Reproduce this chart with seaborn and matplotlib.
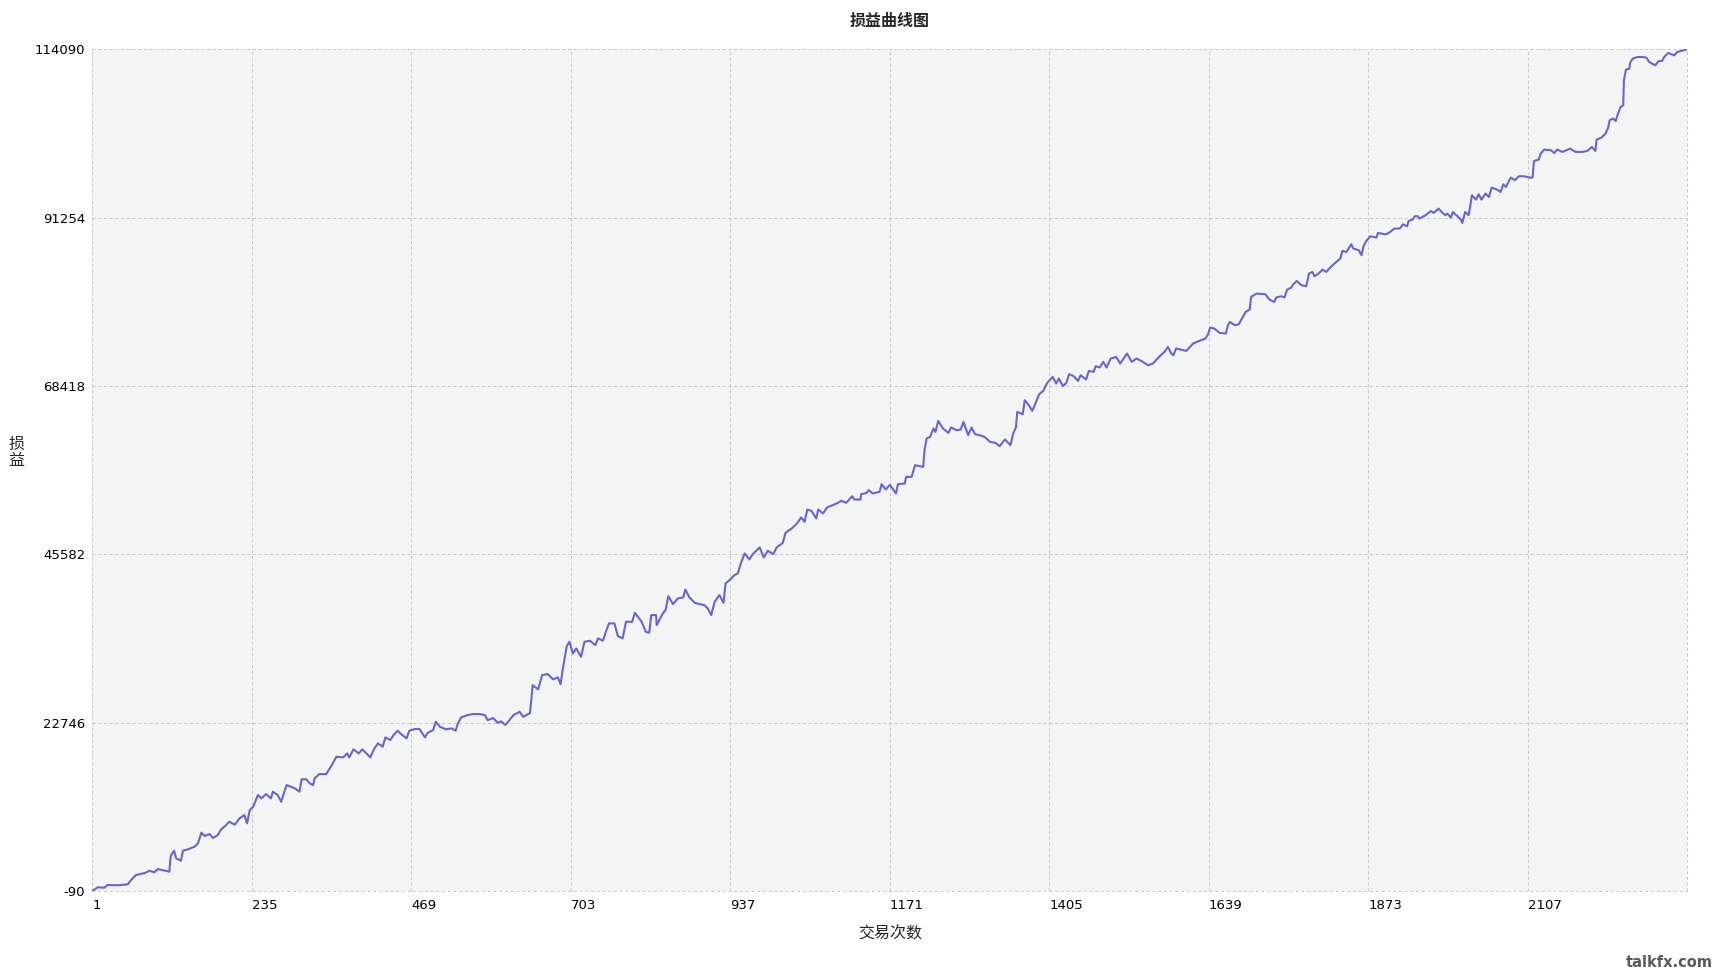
import matplotlib
matplotlib.use("Agg")
import matplotlib.pyplot as plt
import seaborn as sns
import pandas as pd

# ---- data ----
trades = [
    1, 9, 19, 23, 39, 53, 58, 65, 78, 85, 92, 97, 114, 116, 121, 124, 131, 134, 141, 151,
    156, 161, 166, 173, 178, 185, 190, 197, 202, 210, 217, 224, 228, 232, 237, 244, 249, 256,
    263, 266, 273, 278, 286, 298, 305, 308, 315, 320, 325, 327, 334, 344, 351, 359, 369, 375,
    378,
    384, 392, 397, 409, 414, 420, 427, 431, 438, 443, 449, 454, 462, 466, 474, 481, 489, 493,
    501, 505, 511, 520, 528, 534, 537, 542, 552, 559, 569, 577, 581, 589, 596, 601, 607, 613,
    619, 628, 633, 643, 645, 647, 655, 661, 669, 677, 684, 688, 691, 697, 701, 706, 711, 718,
    723, 731, 739, 743, 750, 755, 759, 767, 772,
    779, 784, 793, 797, 807, 813, 818, 821, 828, 829, 838, 842, 846, 853, 860, 868, 871, 877,
    885, 892, 899, 904, 909, 914, 921, 927, 930, 937, 943, 948, 952, 958, 965, 970, 980, 986,
    992, 1000, 1005, 1014, 1018, 1027, 1034, 1041, 1046, 1050, 1056, 1063, 1066, 1073, 1079,
    1093, 1100, 1107, 1116, 1119, 1128, 1129, 1137, 1140, 1146, 1156, 1159, 1165,
    1171, 1176, 1180, 1183, 1193, 1195, 1203, 1208, 1220, 1222, 1225, 1230, 1235, 1238, 1242,
    1249, 1257, 1261, 1269, 1275, 1279, 1286, 1291, 1296, 1303, 1310, 1318, 1326, 1332, 1340,
    1348, 1352, 1356, 1358, 1366, 1369, 1375, 1380, 1385, 1390, 1396, 1402, 1410, 1415, 1419,
    1425, 1430, 1434, 1441, 1447, 1451, 1459, 1463, 1470, 1473, 1479, 1484, 1489, 1495, 1503,
    1509, 1519, 1526, 1533, 1540, 1550, 1557,
    1567, 1574, 1579, 1584, 1587, 1591, 1606, 1616, 1625, 1634, 1638, 1641, 1647, 1655, 1664,
    1667, 1670, 1677, 1683, 1689, 1693, 1699, 1701, 1709, 1722, 1728, 1735, 1738, 1745, 1750,
    1754, 1760, 1763, 1768, 1775, 1782, 1786, 1791, 1794, 1801, 1806, 1811, 1819, 1826, 1832,
    1835, 1841, 1848, 1851, 1859, 1863, 1866, 1870, 1876, 1885, 1887, 1899, 1905, 1911, 1919,
    1924, 1930, 1932, 1938, 1941, 1946,
    1948, 1957, 1965, 1969, 1976, 1982, 1986, 1989, 1994, 1997, 2004, 2009, 2011, 2015, 2020,
    2022, 2025, 2031, 2035, 2039, 2045, 2050, 2054, 2062, 2067, 2071, 2075, 2082, 2088, 2094,
    2102, 2109, 2114, 2116, 2123, 2126, 2131, 2141, 2146, 2150, 2158, 2169, 2177, 2187, 2194,
    2201, 2206, 2208, 2215, 2221, 2225, 2227, 2232, 2236, 2238, 2243, 2247, 2248, 2251, 2256,
    2257, 2261, 2268, 2275, 2281, 2285, 2294, 2299, 2304, 2307, 2313, 2322, 2326, 2341,
]

profit = [
    -90, 410, 360, 720, 690, 820, 1400, 2080, 2350, 2660, 2440, 2890, 2530, 4660, 5380, 4340,
    4020, 5380, 5560, 5920, 6380, 7820, 7370, 7640, 7100, 7500, 8280, 8820, 9310, 8900, 9770,
    10210, 9090, 10890, 11340, 12930, 12480, 13060, 12480, 13380, 12930, 12020, 14280, 13840,
    13380, 15060, 15060, 14510, 14280, 15190, 15770, 15770, 16770, 18120, 18040, 18580, 18040,
    19120, 18580, 19120, 18040, 19120, 19940, 19480, 20750, 20390, 21060, 21650, 21200, 20620,
    21650, 21880, 21880, 20750, 21380, 21740, 22870, 22190, 21840, 21970, 21650, 22550, 23460,
    23780, 23910, 23910, 23780, 23100, 23370, 22730, 22920, 22420, 23100, 23780, 24220, 23550,
    24010, 25810, 27840, 27260, 29200, 29340, 28620, 28890, 27980, 29880, 33130, 33720, 32140,
    32820, 31680, 33720, 33860, 33270, 34180, 33860, 35210, 36210, 36210, 34490,
    34180, 36430, 36430, 37650, 36430, 35070, 34940, 37340, 37340, 35980, 37560, 38010, 39910,
    38830, 39600, 39740, 40820, 39740, 39000, 38830, 38690, 38240, 37340, 39140, 40050, 39000,
    41630, 42180, 42760, 42990, 44250, 45700, 44890, 45610, 46520, 45160, 46060, 45610, 46520,
    47140, 48500, 49090, 49680, 50580, 49990, 51670, 51480, 50450, 51670, 51120, 51940, 52480,
    52840, 52570, 53470, 53020, 53020, 53740, 53920, 54290, 53840, 54060, 55100, 54380,
    55000, 54380, 53840, 55100, 55190, 56090, 56090, 57670, 57440, 59800, 61290, 61510, 62650,
    62190, 63680, 62650, 62060, 62790, 62420, 62510, 63550, 61740, 62790, 61880, 61740, 61510,
    60840, 60700, 60250, 61160, 60390, 61970, 62790, 64900, 64590, 66490, 65810, 65040, 66130,
    67300, 67750, 68840, 69650, 68750, 69430, 68390, 68840, 70020, 69740, 69110, 69880, 69300,
    70460, 70330, 71100, 70920, 71690, 70920, 72140, 72360, 71470, 72820, 71690, 72140, 71820,
    71230, 71470,
    72460, 73040, 73720, 72820, 72590, 73500, 73180, 74180, 74530, 74860, 75440, 76350, 76210,
    75620, 75530, 76660, 77110, 76660, 76790, 77780, 78460, 78790, 80500, 80960, 80860, 80140,
    79820, 80420, 80590, 80420, 81500, 81770, 82220, 82670, 82080, 81950, 83670, 83890, 83300,
    83750, 84210, 83890, 84660, 85240, 85710, 86740, 86600, 87640, 87060, 86830, 86150, 87370,
    88090, 88730, 88550, 89170, 88990, 89310, 89770, 89770, 90350, 90080, 90800, 90990, 91440,
    91440,
    91130, 91580, 92160, 91890, 92480, 91890, 91580, 91810, 91260, 92020, 91440, 90990, 90530,
    92020, 91580, 92480, 94290, 93700, 94420, 93700, 94520, 94060, 95330, 95060, 94740, 95780,
    95420, 96690, 96330, 96870, 96870, 96690, 96690, 98940, 99130, 99950, 100490, 100390,
    100030, 100490, 100170, 100620, 100170, 100170, 100300, 100840, 100300, 101840, 102110,
    102660, 103470, 104460, 104690, 104370, 105000, 106260, 106490, 109880, 111330, 111470,
    112230, 112830, 113050, 113050, 112960, 112370, 111920, 112500, 112500, 113050, 113590,
    113270, 113720, 114090,
]

x_ticks = [1, 235, 469, 703, 937, 1171, 1405, 1639, 1873, 2107, 2341]
x_tick_labels = ["1", "235", "469", "703", "937", "1171", "1405", "1639", "1873", "2107", ""]
y_ticks = [-90, 22746, 45582, 68418, 91254, 114090]
y_tick_labels = ["-90", "22746", "45582", "68418", "91254", "114090"]

title_text = "损益曲线图"
x_label = "交易次数"
y_label = "损\n益"
watermark = "talkfx.com"

df = pd.DataFrame({"trade": trades, "profit": profit})

# ---- figure ----
sns.set_style("white")
plt.rcParams["font.family"] = ["DejaVu Sans", "Noto Sans CJK SC"]

W, H = 1721, 974
fig = plt.figure(figsize=(W / 100, H / 100), dpi=100)
fig.patch.set_facecolor("white")
left, right, top, bottom = 92.3, 1687.3, 49.3, 891.0
ax = fig.add_axes([left / W, 1 - bottom / H, (right - left) / W, (bottom - top) / H])
ax.set_facecolor("#f4f4f4")

sns.lineplot(data=df, x="trade", y="profit", ax=ax, color="#6a64d2",
             linewidth=1.5, sort=False, estimator=None)

ax.set_xlim(x_ticks[0], x_ticks[-1])
ax.set_ylim(y_ticks[0], y_ticks[-1])
ax.set_xticks(x_ticks)
ax.set_xticklabels(x_tick_labels, ha="left")
ax.set_yticks(y_ticks)
ax.set_yticklabels(y_tick_labels)
ax.tick_params(axis="both", length=0, labelsize=9.5, colors="black")
ax.tick_params(axis="x", pad=6)
ax.tick_params(axis="y", pad=5)

for s in ax.spines.values():
    s.set_visible(False)
ax.grid(True, color="#c8c8c8", linestyle=(0, (3, 2.5)), linewidth=0.75)
for gl in ax.get_xgridlines() + ax.get_ygridlines():
    gl.set_clip_on(False)
ax.set_axisbelow(True)

cjk = ["Noto Sans CJK SC", "DejaVu Sans"]
fig.text((left + right) / 2 / W, 1 - 21 / H, title_text, family=cjk, fontsize=11.5,
         weight="bold", ha="center", va="center")
ax.set_xlabel(x_label, family=cjk, fontsize=11.5, weight="medium", va="center")
ax.xaxis.set_label_coords(0.5, (bottom - 934) / (bottom - top))
ax.set_ylabel(y_label, family=cjk, fontsize=11.5, weight="medium", rotation=0,
              va="center", ha="center", linespacing=1.0)
ax.yaxis.set_label_coords((16.7 - left) / (right - left), (bottom - 452.5) / (bottom - top))

fig.text(1669 / W, 1 - 962.5 / H, watermark, ha="center", va="center",
         fontsize=10.5, weight="bold", color="#5a5a5a", family="DejaVu Sans")

fig.savefig("out.png", dpi=100, facecolor="white")
